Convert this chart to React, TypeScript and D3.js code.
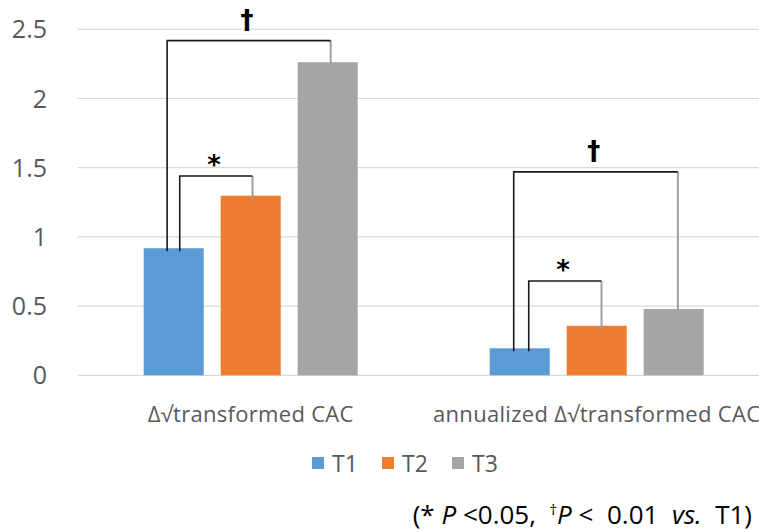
import React from "react";
import * as d3 from "d3";

const categories = ["Δ√transformed CAC", "annualized Δ√transformed CAC"];
const seriesNames = ["T1", "T2", "T3"];
const seriesColors = ["#5b9bd5", "#ed7d31", "#a5a5a5"];
const valuesT1 = [0.918, 0.195];
const valuesT2 = [1.298, 0.358];
const valuesT3 = [2.262, 0.479];
const yTicks = [0, 0.5, 1, 1.5, 2, 2.5];
const yTickLabels = ["0", "0.5", "1", "1.5", "2", "2.5"];

// significance brackets: category index, from series, to series, bracket level (data units), mark
const bracketCat = [0, 0, 1, 1];
const bracketFrom = ["T1", "T1", "T1", "T1"];
const bracketTo = ["T3", "T2", "T3", "T2"];
const bracketLevel = [2.418, 1.44, 1.47, 0.681];
const bracketMark = ["†", "*", "†", "*"];
const bracketFromFrac = [0.39, 0.6, 0.4, 0.65];
const bracketToFrac = [0.55, 0.53, 0.57, 0.58];

const W = 759;
const H = 532;

export default function App() {
  const values = [valuesT1, valuesT2, valuesT3];
  const y = d3.scaleLinear().domain([0, 2.5]).range([375.3, 29.3]);
  const x0 = d3.scaleBand<string>().domain(categories).range([77.7, 769.7]).padding(0);
  const bw0 = x0.bandwidth();
  const x1 = d3
    .scaleBand<string>()
    .domain(seriesNames)
    .range([bw0 / 2 - 107, bw0 / 2 + 107])
    .paddingInner(0.22)
    .paddingOuter(0);
  const bw = x1.bandwidth();
  const font = "'Open Sans', 'Noto Sans', sans-serif";
  const textGrey = "#595959";

  const seriesIndex = (s: string) => seriesNames.indexOf(s);

  return (
    <div style={{ position: "absolute", left: 0, top: 0 }}>
      <svg width={W} height={H} viewBox={`0 0 ${W} ${H}`} style={{ display: "block", background: "#fff" }}>
        <rect x={0} y={0} width={W} height={H} fill="#fff" />
        {/* gridlines */}
        {yTicks.map((t) => (
          <line key={"g" + t} x1={77.7} x2={W} y1={y(t)} y2={y(t)} stroke="#d9d9d9" strokeWidth={1.2} />
        ))}
        {/* y tick labels */}
        {yTicks.map((t, i) => (
          <text
            key={"t" + t}
            x={47}
            y={y(t)}
            dy="0.36em"
            textAnchor="end"
            fontFamily={font}
            fontSize={25}
            fill={textGrey}
          >
            {yTickLabels[i]}
          </text>
        ))}
        {/* bars */}
        {categories.map((c, ci) => (
          <g key={c} transform={`translate(${x0(c)},0)`}>
            {seriesNames.map((s, si) => (
              <rect
                key={s}
                x={x1(s)}
                y={y(values[si][ci])}
                width={bw}
                height={y(0) - y(values[si][ci])}
                fill={seriesColors[si]}
              />
            ))}
          </g>
        ))}
        {/* brackets */}
        {bracketCat.map((ci, bi) => {
          const c = categories[ci];
          const fs = bracketFrom[bi];
          const ts = bracketTo[bi];
          const xa = (x0(c) as number) + (x1(fs) as number) + bw * bracketFromFrac[bi];
          const xb = (x0(c) as number) + (x1(ts) as number) + bw * bracketToFrac[bi];
          const yl = y(bracketLevel[bi]);
          const ya = y(values[seriesIndex(fs)][ci]) + 3;
          const yb = y(values[seriesIndex(ts)][ci]) + 3;
          const isDagger = bracketMark[bi] === "†";
          return (
            <g key={"b" + bi}>
              <line x1={xb} x2={xb} y1={yl} y2={yb} stroke="#a0a0a0" strokeWidth={2} />
              <path d={`M${xa},${ya}V${yl}H${xb}`} fill="none" stroke="#1a1a1a" strokeWidth={1.6} />
              <text
                x={(xa + xb) / 2 - 2}
                y={isDagger ? yl - 12 : yl - 2}
                textAnchor="middle"
                fontFamily="'DejaVu Sans', sans-serif"
                fontWeight="bold"
                fontSize={26}
                fill="#000"
              >
                {bracketMark[bi]}
              </text>
            </g>
          );
        })}
        {/* category labels */}
        {categories.map((c) => (
          <text
            key={"c" + c}
            x={(x0(c) as number) + bw0 / 2}
            y={422}
            textAnchor="middle"
            fontFamily={font}
            fontSize={22}
            letterSpacing={0.3}
            fill={textGrey}
          >
            {c}
          </text>
        ))}
        {/* legend */}
        {(() => {
          let cx = 312;
          return seriesNames.map((s, si) => {
            const gx = cx;
            cx += 70;
            return (
              <g key={"l" + s}>
                <rect x={gx} y={457} width={12} height={12} fill={seriesColors[si]} />
                <text x={gx + 20} y={472} fontFamily={font} fontSize={23} fill={textGrey}>
                  {s}
                </text>
              </g>
            );
          });
        })()}
        {/* footnote */}
        <text x={752} y={524} textAnchor="end" fontFamily={font} fontSize={26} fill="#000" xmlSpace="preserve">
          <tspan>(* </tspan>
          <tspan fontStyle="italic">P</tspan>
          <tspan> {"<"}0.05,  </tspan>
          <tspan fontSize={15} dy={-9}>†</tspan>
          <tspan fontStyle="italic" dy={9}>P</tspan>
          <tspan> {"<"}  0.01  </tspan>
          <tspan fontStyle="italic">vs.</tspan>
          <tspan>  T1)</tspan>
        </text>
      </svg>
    </div>
  );
}
